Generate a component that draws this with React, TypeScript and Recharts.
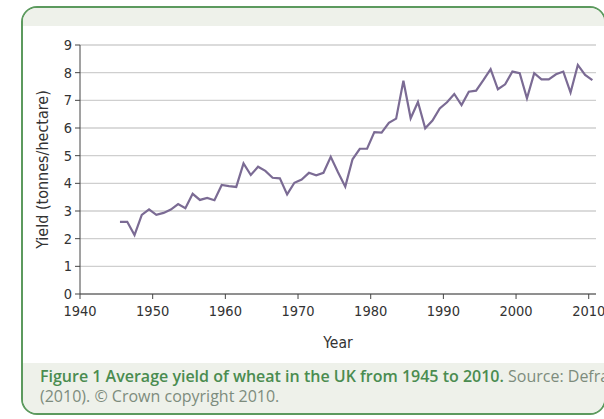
import { CartesianGrid, Line, LineChart, XAxis, YAxis } from "recharts";

const years = [
  1945, 1946, 1947, 1948, 1949, 1950, 1951, 1952, 1953, 1954, 1955, 1956,
  1957, 1958, 1959, 1960, 1961, 1962, 1963, 1964, 1965, 1966, 1967, 1968,
  1969, 1970, 1971, 1972, 1973, 1974, 1975, 1976, 1977, 1978, 1979, 1980,
  1981, 1982, 1983, 1984, 1985, 1986, 1987, 1988, 1989, 1990, 1991, 1992,
  1993, 1994, 1995, 1996, 1997, 1998, 1999, 2000, 2001, 2002, 2003, 2004,
  2005, 2006, 2007, 2008, 2009, 2010,
];

// tonnes per hectare
const yields = [
  2.61, 2.61, 2.13, 2.86, 3.06, 2.86, 2.93, 3.05, 3.25, 3.1, 3.62, 3.4,
  3.47, 3.39, 3.94, 3.9, 3.87, 4.72, 4.3, 4.6, 4.45, 4.2, 4.18, 3.6,
  4.02, 4.14, 4.38, 4.29, 4.38, 4.96, 4.4, 3.88, 4.87, 5.25, 5.25, 5.85,
  5.83, 6.19, 6.34, 7.71, 6.35, 6.94, 5.99, 6.27, 6.71, 6.93, 7.23, 6.83,
  7.31, 7.35, 7.73, 8.13, 7.4, 7.58, 8.04, 7.98, 7.07, 7.98, 7.76, 7.76,
  7.94, 8.04, 7.28, 8.28, 7.92, 7.73,
];

const xTicks = [1940, 1950, 1960, 1970, 1980, 1990, 2000, 2010];
const yTicks = [0, 1, 2, 3, 4, 5, 6, 7, 8, 9];

// harvest plotted at mid-year
const data = years.map((year, i) => ({ year: year + 0.5, value: yields[i] }));

const tickFont = "'DejaVu Sans Condensed', 'DejaVu Sans', sans-serif";
const band = "#eef1ea";
const green = "#5c9a5e";

export default function App() {
  return (
    <div
      style={{
        position: "absolute",
        left: 0,
        top: 0,
        width: 604,
        height: 419,
        overflow: "hidden",
        background: "#fff",
      }}
    >
      <div
        style={{
          position: "absolute",
          left: 21,
          top: 6,
          width: 585,
          height: 409,
          border: `2px solid ${green}`,
          borderRadius: 16,
          overflow: "hidden",
          boxSizing: "border-box",
          background: "#fff",
        }}
      >
        <div style={{ height: 18, background: band }} />
        <div
          style={{
            position: "absolute",
            left: 0,
            right: 0,
            top: 355,
            bottom: 0,
            background: band,
          }}
        />
        <div
          style={{
            position: "absolute",
            left: 17,
            top: 358,
            width: 620,
            fontFamily: "'Open Sans', sans-serif",
            fontSize: 16,
            lineHeight: "20px",
            color: "#7d8c7d",
            whiteSpace: "nowrap",
          }}
        >
          <span style={{ color: "#4a8c50", fontWeight: 600 }}>
            Figure 1 Average yield of wheat in the UK from 1945 to 2010.
          </span>{" "}
          Source: Defra
          <br />
          (2010). © Crown copyright 2010.
        </div>
      </div>

      <div style={{ position: "absolute", left: 0, top: 0 }}>
        <LineChart
          width={604}
          height={360}
          data={data}
          margin={{ top: 45, right: 8, bottom: 11, left: 0 }}
        >
          <CartesianGrid
            horizontal
            vertical={false}
            stroke="#cfcfcf"
            strokeWidth={1.3}
          />
          <XAxis
            dataKey="year"
            type="number"
            domain={[1940, 2011]}
            ticks={xTicks}
            allowDataOverflow
            height={55}
            tickSize={5}
            tickMargin={7}
            stroke="#444"
            tick={{ fill: "#333", fontSize: 14.5, fontFamily: tickFont }}
            label={{
              value: "Year",
              position: "insideBottom",
              offset: 1,
              fill: "#333",
              fontSize: 15.5,
              fontFamily: tickFont,
            }}
          />
          <YAxis
            type="number"
            domain={[0, 9]}
            ticks={yTicks}
            width={80}
            tickSize={5}
            tickMargin={3}
            stroke="#444"
            tick={{ fill: "#333", fontSize: 14.5, fontFamily: tickFont }}
            label={{
              value: "Yield (tonnes/hectare)",
              angle: -90,
              position: "insideLeft",
              offset: 42,
              fill: "#333",
              fontSize: 16,
              fontFamily: tickFont,
              style: { textAnchor: "middle" },
            }}
          />
          <Line
            dataKey="value"
            type="linear"
            stroke="#7b6b94"
            strokeWidth={2.2}
            dot={false}
            isAnimationActive={false}
          />
        </LineChart>
      </div>
    </div>
  );
}
